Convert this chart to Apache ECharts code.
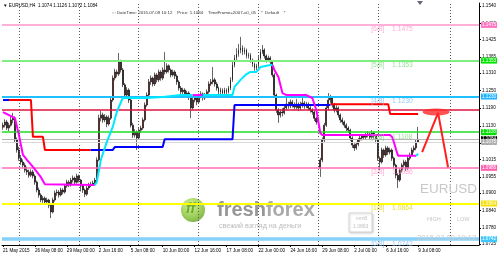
<!DOCTYPE html>
<html><head><meta charset="utf-8">
<script src="https://cdn.jsdelivr.net/npm/echarts@6/dist/echarts.min.js"></script>
<style>html,body{margin:0;padding:0;background:#fff;overflow:hidden}#c{width:500px;height:257px}</style>
</head><body><div id="c"></div>
<script>
// ---- data ----
const timeLabels = ['21 May 2015','26 May 08:00','29 May 00:00','2 Jun 16:00','5 Jun 08:00','10 Jun 00:00','12 Jun 16:00','17 Jun 08:00','22 Jun 00:00','24 Jun 16:00','29 Jun 08:00','2 Jul 00:00','6 Jul 16:00','9 Jul 08:00'];
const labelStep = 16;
const slotCount = 239;
const priceTicks = [1.1540,1.1480,1.1425,1.1365,1.1310,1.1250,1.1190,1.1130,1.1070,1.1015,1.0955,1.0900,1.0840,1.0780,1.0725];
// [open, close, low, high]
const candles = [
[1.1125,1.1132,1.1116,1.1141],[1.1132,1.1143,1.1124,1.1152],[1.1143,1.1122,1.1115,1.1150],[1.1122,1.1132,1.1112,1.1140],
[1.1132,1.1150,1.1127,1.1160],[1.1150,1.1156,1.1138,1.1174],[1.1156,1.1081,1.1072,1.1162],[1.1081,1.1047,1.1038,1.1090],
[1.1047,1.1019,1.1010,1.1058],[1.1019,1.1006,1.0996,1.1030],[1.1006,1.0995,1.0985,1.1015],[1.0995,1.0978,1.0970,1.1003],
[1.0978,1.0972,1.0962,1.0990],[1.0972,1.0961,1.0952,1.0980],[1.0961,1.0972,1.0955,1.0981],[1.0972,1.0958,1.0950,1.0979],
[1.0958,1.0937,1.0928,1.0964],[1.0937,1.0910,1.0902,1.0942],[1.0910,1.0893,1.0884,1.0918],[1.0893,1.0876,1.0868,1.0899],
[1.0876,1.0882,1.0866,1.0890],[1.0882,1.0869,1.0860,1.0888],[1.0869,1.0876,1.0862,1.0884],[1.0876,1.0858,1.0848,1.0880],
[1.0858,1.0835,1.0814,1.0864],[1.0835,1.0876,1.0830,1.0884],[1.0876,1.0900,1.0870,1.0908],[1.0900,1.0903,1.0890,1.0912],
[1.0903,1.0893,1.0884,1.0910],[1.0893,1.0910,1.0888,1.0918],[1.0910,1.0903,1.0895,1.0916],[1.0903,1.0924,1.0898,1.0930],
[1.0924,1.0937,1.0918,1.0945],[1.0937,1.0927,1.0920,1.0944],[1.0927,1.0944,1.0922,1.0952],[1.0944,1.0951,1.0936,1.0960],
[1.0951,1.0937,1.0930,1.0956],[1.0937,1.0958,1.0932,1.0966],[1.0958,1.0944,1.0936,1.0963],[1.0944,1.0924,1.0905,1.0948],
[1.0924,1.0910,1.0900,1.0930],[1.0910,1.0896,1.0886,1.0915],[1.0896,1.0917,1.0890,1.0924],[1.0917,1.0927,1.0910,1.0935],
[1.0927,1.0930,1.0920,1.0938],[1.0930,1.0934,1.0924,1.0942],[1.0934,1.0944,1.0928,1.0952],[1.0944,1.1013,1.0940,1.1022],
[1.1013,1.1156,1.1008,1.1168],[1.1156,1.1167,1.1145,1.1182],[1.1167,1.1150,1.1140,1.1175],[1.1150,1.1160,1.1142,1.1170],
[1.1160,1.1136,1.1125,1.1166],[1.1136,1.1156,1.1130,1.1165],[1.1156,1.1218,1.1150,1.1226],[1.1218,1.1293,1.1212,1.1302],
[1.1293,1.1314,1.1285,1.1325],[1.1314,1.1307,1.1296,1.1322],[1.1307,1.1348,1.1300,1.1379],[1.1348,1.1321,1.1312,1.1356],
[1.1321,1.1270,1.1262,1.1328],[1.1270,1.1235,1.1226,1.1276],[1.1235,1.1252,1.1228,1.1262],[1.1252,1.1218,1.1208,1.1258],
[1.1218,1.1132,1.1124,1.1224],[1.1132,1.1098,1.1088,1.1140],[1.1098,1.1109,1.1090,1.1118],[1.1109,1.1088,1.1047,1.1114],
[1.1088,1.1115,1.1082,1.1122],[1.1115,1.1122,1.1106,1.1130],[1.1122,1.1150,1.1116,1.1158],[1.1150,1.1201,1.1144,1.1210],
[1.1201,1.1235,1.1195,1.1244],[1.1235,1.1280,1.1228,1.1290],[1.1280,1.1293,1.1270,1.1302],[1.1293,1.1273,1.1264,1.1298],
[1.1273,1.1304,1.1266,1.1312],[1.1304,1.1287,1.1278,1.1310],[1.1287,1.1314,1.1280,1.1322],[1.1314,1.1293,1.1284,1.1320],
[1.1293,1.1321,1.1286,1.1330],[1.1321,1.1314,1.1305,1.1382],[1.1314,1.1335,1.1308,1.1344],[1.1335,1.1321,1.1312,1.1340],
[1.1321,1.1304,1.1296,1.1326],[1.1304,1.1314,1.1298,1.1322],[1.1314,1.1300,1.1290,1.1320],[1.1300,1.1280,1.1270,1.1306],
[1.1280,1.1259,1.1250,1.1286],[1.1259,1.1246,1.1238,1.1266],[1.1246,1.1252,1.1238,1.1260],[1.1252,1.1235,1.1226,1.1258],
[1.1235,1.1242,1.1228,1.1250],[1.1242,1.1228,1.1218,1.1248],[1.1228,1.1191,1.1156,1.1234],[1.1191,1.1218,1.1185,1.1226],
[1.1218,1.1225,1.1210,1.1234],[1.1225,1.1211,1.1200,1.1230],[1.1211,1.1232,1.1205,1.1240],[1.1232,1.1239,1.1224,1.1248],
[1.1239,1.1225,1.1216,1.1244],[1.1225,1.1235,1.1218,1.1242],[1.1235,1.1246,1.1228,1.1254],[1.1246,1.1273,1.1240,1.1282],
[1.1273,1.1280,1.1266,1.1290],[1.1280,1.1287,1.1272,1.1331],[1.1287,1.1273,1.1264,1.1294],[1.1273,1.1259,1.1250,1.1280],
[1.1259,1.1246,1.1237,1.1264],[1.1246,1.1252,1.1238,1.1260],[1.1252,1.1242,1.1234,1.1258],[1.1242,1.1252,1.1236,1.1260],
[1.1252,1.1246,1.1238,1.1258],[1.1246,1.1259,1.1240,1.1266],[1.1259,1.1287,1.1252,1.1296],[1.1287,1.1338,1.1280,1.1348],
[1.1338,1.1362,1.1330,1.1372],[1.1362,1.1376,1.1354,1.1395],[1.1376,1.1389,1.1366,1.1410],[1.1389,1.1397,1.1378,1.1434],
[1.1397,1.1383,1.1372,1.1405],[1.1383,1.1389,1.1374,1.1398],[1.1389,1.1369,1.1360,1.1394],[1.1369,1.1372,1.1360,1.1380],
[1.1372,1.1355,1.1346,1.1378],[1.1355,1.1341,1.1332,1.1360],[1.1341,1.1328,1.1318,1.1346],[1.1328,1.1335,1.1320,1.1342],
[1.1335,1.1362,1.1330,1.1370],[1.1362,1.1383,1.1356,1.1392],[1.1383,1.1389,1.1376,1.1406],[1.1389,1.1369,1.1360,1.1395],
[1.1369,1.1355,1.1346,1.1374],[1.1355,1.1362,1.1348,1.1370],[1.1362,1.1348,1.1338,1.1368],[1.1348,1.1304,1.1296,1.1352],
[1.1304,1.1235,1.1226,1.1310],[1.1235,1.1184,1.1174,1.1240],[1.1184,1.1167,1.1140,1.1190],[1.1167,1.1177,1.1158,1.1186],
[1.1177,1.1174,1.1162,1.1190],[1.1174,1.1191,1.1168,1.1200],[1.1191,1.1204,1.1184,1.1226],[1.1204,1.1198,1.1188,1.1212],
[1.1198,1.1211,1.1190,1.1220],[1.1211,1.1201,1.1192,1.1218],[1.1201,1.1194,1.1185,1.1210],[1.1194,1.1204,1.1186,1.1222],
[1.1204,1.1191,1.1180,1.1210],[1.1191,1.1201,1.1184,1.1212],[1.1201,1.1208,1.1192,1.1225],[1.1208,1.1198,1.1188,1.1214],
[1.1198,1.1204,1.1190,1.1212],[1.1204,1.1191,1.1182,1.1210],[1.1191,1.1184,1.1175,1.1198],[1.1184,1.1177,1.1168,1.1190],
[1.1177,1.1156,1.1146,1.1182],[1.1156,1.1143,1.1134,1.1160],[1.1143,1.1150,1.1136,1.1158],[1.0985,1.1013,1.0955,1.1020],
[1.1013,1.1081,1.1005,1.1090],[1.1081,1.1132,1.1074,1.1140],[1.1132,1.1191,1.1126,1.1200],[1.1191,1.1218,1.1184,1.1242],
[1.1218,1.1225,1.1208,1.1236],[1.1225,1.1201,1.1192,1.1230],[1.1201,1.1184,1.1175,1.1208],[1.1184,1.1191,1.1176,1.1200],
[1.1191,1.1167,1.1158,1.1196],[1.1167,1.1150,1.1140,1.1172],[1.1150,1.1143,1.1134,1.1158],[1.1143,1.1132,1.1123,1.1148],
[1.1132,1.1122,1.1112,1.1138],[1.1122,1.1115,1.1106,1.1128],[1.1115,1.1088,1.1078,1.1120],[1.1088,1.1064,1.1054,1.1094],
[1.1064,1.1054,1.1044,1.1070],[1.1054,1.1067,1.1048,1.1075],[1.1067,1.1081,1.1060,1.1088],[1.1081,1.1088,1.1074,1.1096],
[1.1088,1.1095,1.1080,1.1102],[1.1095,1.1091,1.1082,1.1100],[1.1091,1.1098,1.1084,1.1106],[1.1098,1.1102,1.1090,1.1112],
[1.1102,1.1091,1.1082,1.1108],[1.1091,1.1105,1.1085,1.1115],[1.1105,1.1095,1.1086,1.1110],[1.1095,1.1081,1.1070,1.1100],
[1.1081,1.1019,1.1010,1.1086],[1.1019,1.1006,1.0978,1.1025],[1.1006,1.1047,1.1000,1.1055],[1.1047,1.1030,1.1020,1.1052],
[1.1030,1.1054,1.1024,1.1062],[1.1054,1.1040,1.1030,1.1060],[1.1040,1.1047,1.1032,1.1055],[1.1047,1.1019,1.1010,1.1052],
[1.1019,1.0995,1.0985,1.1024],[1.0995,1.0961,1.0950,1.1000],[1.0961,1.0944,1.0917,1.0968],[1.0944,1.0978,1.0938,1.0985],
[1.0978,1.0995,1.0970,1.1002],[1.0995,1.1006,1.0988,1.1014],[1.1006,1.0985,1.0975,1.1012],[1.0985,1.1019,1.0978,1.1026],
[1.1019,1.1030,1.1012,1.1038],[1.1030,1.1047,1.1024,1.1055],[1.1047,1.1054,1.1038,1.1062],[1.1054,1.1074,1.1046,1.1082],
[1.1074,1.1084,1.1072,1.1126]
];
// trend line (magenta falling / cyan rising), points [barIndex, price]
const magentaSegments = [
 [[0,1.1177],[6,1.1156],[8,1.1098],[10,1.1030],[12,1.1013],[15,1.0989],[19,1.0954],[21,1.0930],[22,1.0927],[46,1.0927]],
 [[95,1.1235],[100,1.1235]],
 [[135,1.1338],[136,1.1321],[138,1.1297],[140,1.1242],[142,1.1235],[152,1.1235],[155,1.1225],[157,1.1184],[159,1.1105],[160,1.1098],[194,1.1098],[195,1.1091],[196,1.1071],[197,1.1047],[198,1.1027],[207,1.1027]]
];
const cyanSegments = [
 [[46,1.0927],[47,1.0937],[49,1.1013],[52,1.1074],[55,1.1126],[57,1.1177],[60,1.1225],[72,1.1225],[80,1.1228],[89,1.1235],[95,1.1235]],
 [[100,1.1235],[115,1.1235],[116,1.1263],[119,1.1287],[122,1.1307],[124,1.1314],[127,1.1314],[129,1.1331],[134,1.1338],[135,1.1338]],
 [[207,1.1027],[208,1.1034]]
];
// stepped trend (red falling / blue rising)
const redSegments = [
 [[3,1.1218],[14,1.1218],[15,1.1092],[20,1.1092],[21,1.1047],[44,1.1047]],
 [[164,1.1204],[193,1.1204],[194,1.1170],[208,1.1170]]
];
const blueSegments = [
 [[0,1.1218],[3,1.1218]],
 [[44,1.1047],[55,1.1047],[56,1.1057],[80,1.1057],[81,1.1084],[115,1.1084],[116,1.1201],[164,1.1201]]
];
// Murrey math levels
const mmNames  = ['[6/8]','[5/8]','[4/8]','[3/8]','[2/8]','[1/8]','[0/8]'];
const mmLevels = [1.1475,1.1353,1.1230,1.1108,1.0986,1.0864,1.0742];
const mmColors = ['#ffb0d8','#80ee80','#1ec0ff','#22dd22','#ff6eb8','#ffff00','#87d0fa'];
const mmTagColors = ['#ff74c4','#00e600','#1eb4ff','#00dd00','#ff5fb0','#f5e000','#3cc8ff'];
const mmTextColors = ['#ff98cc','#7cdc7c','#7ebcf0','#7cd87c','#ff90c8','#dada00','#7ebcf0'];
const mmWidths = [2,2,2,1.5,1.5,2,3.5];
const extraLevels = [1.1186, 1.1084, 1.1075];
const extraColors = ['#dc143c', '#b4b4b4', '#d8d8d8'];
const vGridBars = [8,38,68,98,128,158,188,224];
const mmLabelBar = 184;
const arrowPath = [[210,1.1040],[218,1.1174],[223,1.0988]];
const ellipsePoint = [[217,1.1177]];

// ---- chart ----
const categories = Array.from({length: slotCount}, (_, i) => String(i));
const showLabel = i => i % labelStep === 0 && i / labelStep < timeLabels.length;
const FONT = 'Liberation Sans';
const SMALL = 4.6;

const chart = echarts.init(document.getElementById('c'), null, {renderer: 'canvas'});

const series = [];
series.push({
  type: 'line', data: [], silent: true, z: 1,
  markLine: { symbol: ['none','none'], silent: true, animation: false, precision: 4,
    lineStyle: {color: '#555', type: [1,2], width: 1}, label: {show: false},
    data: vGridBars.map(b => ({xAxis: b})) }
});
series.push({
  type: 'candlestick', data: candles, barWidth: 1.4, z: 3, animation: false,
  itemStyle: {color: '#800000', color0: '#000', borderColor: '#000', borderColor0: '#000', borderWidth: 0.6}
});
const lineSeg = (segs, color, z) => segs.forEach(s => series.push({
  type: 'line', data: s, showSymbol: false, symbol: 'none', z: z, animation: false, silent: true,
  lineStyle: {color: color, width: 2}
}));
lineSeg(redSegments, '#ff0000', 5);
lineSeg(blueSegments, '#0000ff', 5);
lineSeg(magentaSegments, '#ff00ff', 6);
lineSeg(cyanSegments, '#00e8ff', 6);

const tagLabel = (txt, bg) => ({show: true, position: 'end', distance: 2, formatter: txt,
  backgroundColor: bg, color: '#fff', fontSize: SMALL, fontFamily: FONT, padding: [1,1,0,1]});
series.push({
  type: 'line', data: [], silent: true, z: 7,
  markLine: { symbol: ['none','none'], silent: true, animation: false, precision: 4,
    data: mmLevels.map((v, k) => ({yAxis: v, lineStyle: {color: mmColors[k], width: mmWidths[k], type: 'solid'},
      label: tagLabel(v.toFixed(4), mmTagColors[k])}))
      .concat(extraLevels.map((v, k) => ({yAxis: v, lineStyle: {color: extraColors[k], width: k === 0 ? 1.6 : 1, type: 'solid'},
        label: k === 0 ? {show: false} : tagLabel(v.toFixed(4), k === 1 ? '#000' : '#b0b0b0')})))
  }
});
series.push({
  type: 'scatter', z: 7, silent: true, animation: false, symbolSize: 2,
  itemStyle: {color: 'rgba(255,255,255,0)'},
  label: {show: true},
  data: mmLevels.map((v, k) => ({value: [mmLabelBar, v], label: {show: true, position: 'right', distance: 0, offset: [0, 4.5],
    formatter: mmNames[k] + '    ' + v.toFixed(4), color: mmTextColors[k], fontSize: 6.8, fontFamily: FONT}}))
});
series.push({type: 'line', data: arrowPath, symbol: 'none', z: 8, silent: true, animation: false,
  lineStyle: {color: '#ff2020', width: 2}});
series.push({type: 'scatter', data: ellipsePoint, symbol: 'circle', symbolSize: [27, 7], z: 8, silent: true, animation: false,
  itemStyle: {color: '#ff2828'}});

chart.setOption({
  animation: false,
  backgroundColor: '#fff',
  grid: {left: 1, right: 21, top: 3, bottom: 12, show: false},
  xAxis: {
    type: 'category', data: categories, boundaryGap: true,
    axisLine: {show: true, lineStyle: {color: '#000', width: 1}},
    axisTick: {show: true, interval: (i) => showLabel(i), alignWithLabel: true, length: 2, lineStyle: {color: '#000'}},
    axisLabel: {interval: (i) => showLabel(i), formatter: (v, i) => timeLabels[i / labelStep] || '',
      fontSize: SMALL, fontFamily: FONT, color: '#000', margin: 3, align: 'left'},
    splitLine: {show: false}
  },
  yAxis: {
    type: 'value', position: 'right', min: 1.0722, max: 1.1550, scale: true,
    axisLine: {show: true, lineStyle: {color: '#000', width: 1}},
    axisTick: {show: true, length: 2, customValues: priceTicks, lineStyle: {color: '#000'}},
    axisLabel: {customValues: priceTicks, formatter: v => v.toFixed(4), fontSize: SMALL, fontFamily: FONT, color: '#000', margin: 3},
    splitLine: {show: false}
  },
  series: series,
  graphic: [
    {type: 'text', left: 3, top: 3, z: 20, style: {text: '\u25BC EURUSD,H4  1.1074 1.1126 1.1072 1.1084', fontSize: SMALL, fontFamily: FONT, fill: '#000'}},
    {type: 'text', left: 112, top: 11, z: 20, style: {text: '::: DateTime: 2015.07.09 10:12    Price: 1.1084    TimeFrame=2007-v0_05    *  Default    *', fontSize: 4.4, fontFamily: FONT, fill: '#333'}},
    {type: 'polygon', z: 20, shape: {points: [[417,1],[423,1],[420,5]]}, style: {fill: '#667'}},
    {type: 'text', left: 420, top: 182, z: 20, style: {text: 'EURUSD', fontSize: 13.5, fontFamily: FONT, fill: '#c8c8c8'}},
    {type: 'text', left: 427, top: 216, z: 20, style: {text: 'HIGH', fontSize: 5.5, fontFamily: FONT, fill: '#c8c8c8'}},
    {type: 'text', left: 457, top: 216, z: 20, style: {text: 'LOW', fontSize: 5.5, fontFamily: FONT, fill: '#c8c8c8'}},
    {type: 'text', left: 417, top: 234, z: 20, style: {text: '2015.07.09 10:12', fontSize: 7.6, fontFamily: FONT, fill: '#cccccc'}},
    {type: 'rect', z: 20, shape: {x: 349, y: 213, width: 23, height: 19}, style: {fill: '#fff', stroke: '#d4d4d4', lineWidth: 1, shadowBlur: 2, shadowColor: 'rgba(0,0,0,0.15)', shadowOffsetX: 1, shadowOffsetY: 1}},
    {type: 'text', z: 21, left: 356, top: 216, style: {text: 'mm8', fontSize: 5, fontFamily: FONT, fill: '#c0c0c0'}},
    {type: 'text', z: 21, left: 353, top: 224, style: {text: '1.0863', fontSize: 5, fontFamily: FONT, fill: '#c0c0c0'}},
    {type: 'group', z: 15, children: [
      {type: 'circle', shape: {cx: 193, cy: 210, r: 12}, style: {opacity: 0.85, fill: new echarts.graphic.RadialGradient(0.4, 0.3, 0.8, [{offset: 0, color: '#c8ee8a'}, {offset: 0.6, color: '#8cc63f'}, {offset: 1, color: '#5e9e20'}])}},
      {type: 'text', x: 186, y: 202, style: {text: 'ff', fontSize: 14, fontStyle: 'italic', fontWeight: 'bold', fontFamily: FONT, fill: '#5a9a1a', opacity: 0.8}},
      {type: 'text', x: 217, y: 200, style: {rich: {a: {fontSize: 20, fontWeight: 'bold', fontFamily: FONT, fill: '#858585'}, b: {fontSize: 20, fontWeight: 'bold', fontFamily: FONT, fill: '#9a9a9a'}}, text: '{a|fresh}{b|forex}', opacity: 0.85}},
      {type: 'text', x: 219, y: 223, style: {text: 'свежий взгляд на деньги', fontSize: 7.2, fontFamily: FONT, fill: '#b4b4b4', opacity: 0.9}}
    ]}
  ]
});
</script>
</body></html>
